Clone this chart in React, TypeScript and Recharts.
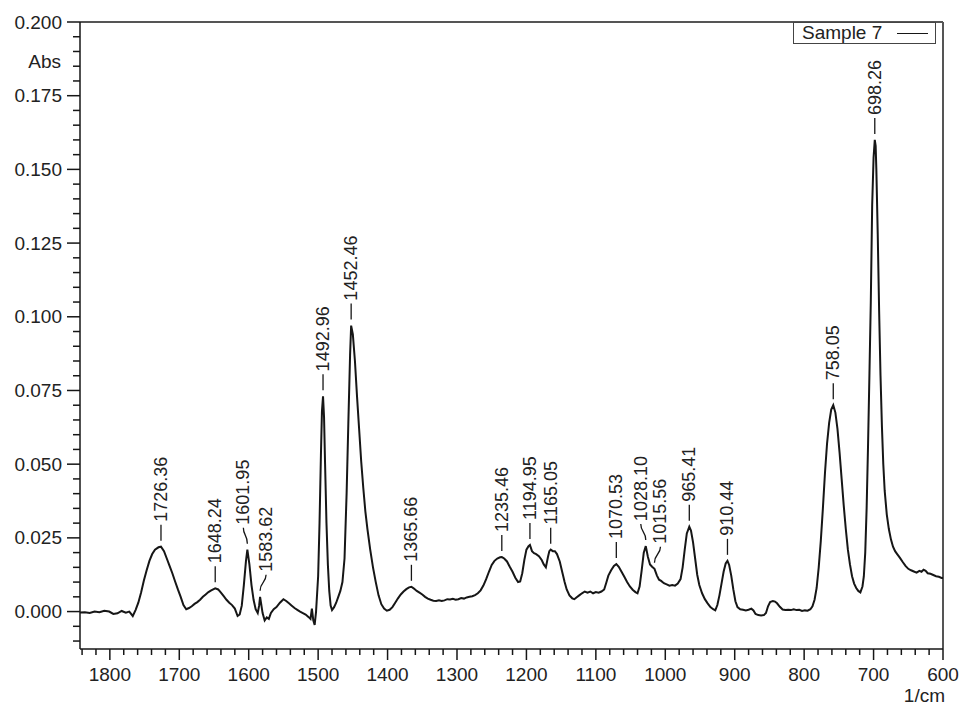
import React from 'react';
import { ComposedChart, Line, Scatter, XAxis, YAxis, ReferenceLine, Label } from 'recharts';

// FTIR absorbance trace of Sample 7, [wavenumber 1/cm, Abs]
const carbonylRegion = [
    [1843, -0.0003], [1836, -0.0002], [1829, -0.0005], [1822, 0.0], [1815, -0.0002], [1808, 0.0003],
    [1801, 0.0], [1795, -0.0008], [1789, -0.0006], [1783, 0.0002], [1777, -0.0004], [1772, 0.0],
    [1767, -0.0015], [1763, 0.0005], [1759, 0.003], [1755, 0.0065], [1751, 0.0105], [1747, 0.014],
    [1743, 0.0172], [1739, 0.0195], [1735, 0.021], [1730, 0.0218], [1726.36, 0.022], [1722, 0.0205],
    [1718, 0.018], [1714, 0.0155], [1710, 0.013], [1706, 0.0102], [1702, 0.0075], [1698, 0.005],
    [1694, 0.0022], [1690, 0.0008], [1686, 0.0012], [1682, 0.0018], [1678, 0.0026], [1674, 0.0032],
    [1670, 0.004], [1666, 0.005], [1662, 0.0058], [1658, 0.0066], [1654, 0.0072], [1648.24, 0.0079],
    [1644, 0.0075], [1640, 0.0064], [1636, 0.0052], [1632, 0.004], [1628, 0.003], [1624, 0.0022],
    [1620, 0.001], [1616, -0.0015],
];

const aromaticRegion = [
    [1613, -0.001], [1610, 0.002], [1607, 0.009], [1604, 0.017], [1601.95, 0.021], [1599, 0.016],
    [1596, 0.009], [1593, 0.004], [1590, 0.0008], [1587, -0.0005], [1585, 0.002], [1583.62, 0.005],
    [1582, 0.0025], [1580, -0.0005], [1577, -0.003], [1574, -0.002], [1571, -0.0025], [1568, -0.0005],
    [1564, 0.0008], [1560, 0.0015], [1555, 0.003], [1550, 0.0042], [1546, 0.0036], [1542, 0.0028],
    [1538, 0.002], [1534, 0.0012], [1530, 0.0006], [1526, 0.0], [1522, -0.0005], [1518, -0.001],
    [1514, -0.0018], [1511, -0.0025], [1509, 0.001], [1507, -0.003], [1505, -0.0045], [1503, 0.0],
    [1500, 0.012], [1498, 0.03], [1496, 0.053], [1494.5, 0.068], [1492.96, 0.073], [1491.5, 0.066],
    [1490, 0.05], [1488, 0.03], [1486, 0.016], [1484, 0.007], [1482, 0.002], [1480, 0.0005],
    [1477, 0.0015], [1474, 0.003], [1471, 0.005], [1468, 0.007], [1465, 0.01], [1462, 0.018],
    [1459, 0.04], [1456.5, 0.064], [1454, 0.087], [1452.46, 0.097], [1450, 0.094], [1447, 0.085],
    [1444, 0.073], [1441, 0.062], [1438, 0.051], [1435, 0.042], [1432, 0.034], [1429, 0.028],
    [1425, 0.021], [1421, 0.015], [1417, 0.01], [1413, 0.0055], [1409, 0.0025], [1405, 0.001],
    [1401, 0.0003],
];

const fingerprintRegion = [
    [1397, 0.0006], [1393, 0.0015], [1389, 0.003], [1385, 0.0045], [1381, 0.0058], [1377, 0.0068],
    [1373, 0.0076], [1369, 0.0082], [1365.66, 0.0084], [1362, 0.0078], [1358, 0.007], [1354, 0.0064],
    [1350, 0.0058], [1346, 0.005], [1342, 0.0044], [1338, 0.004], [1334, 0.0037], [1330, 0.0036],
    [1326, 0.0038], [1322, 0.0036], [1318, 0.0038], [1314, 0.0042], [1310, 0.0041], [1306, 0.0043],
    [1302, 0.004], [1298, 0.0042], [1294, 0.0046], [1290, 0.0044], [1286, 0.0048], [1282, 0.005],
    [1278, 0.0052], [1274, 0.0056], [1270, 0.0062], [1266, 0.0072], [1262, 0.0088], [1258, 0.011],
    [1254, 0.0135], [1250, 0.0158], [1246, 0.0172], [1242, 0.018], [1238, 0.0184], [1235.46, 0.0185],
    [1232, 0.018], [1228, 0.017], [1224, 0.0152], [1220, 0.0135], [1216, 0.0115], [1212, 0.01],
    [1209, 0.0102], [1206, 0.013], [1203, 0.0175], [1200, 0.021], [1197, 0.0222], [1194.95, 0.0226],
    [1192, 0.0205], [1189, 0.0198], [1186, 0.0195], [1182, 0.0188], [1178, 0.0175], [1175, 0.016],
    [1172, 0.015], [1169, 0.0185], [1167, 0.0205], [1165.05, 0.021], [1162, 0.0205], [1159, 0.0205],
    [1156, 0.0195], [1152, 0.017], [1148, 0.013], [1145, 0.01], [1142, 0.0075], [1138, 0.0055],
    [1134, 0.0045], [1131, 0.0042], [1128, 0.0048], [1124, 0.0055], [1120, 0.0062], [1116, 0.0068],
    [1112, 0.0064], [1108, 0.0068], [1104, 0.0062], [1100, 0.0066], [1096, 0.0064], [1092, 0.0068],
    [1088, 0.0075], [1085, 0.0098], [1082, 0.0122], [1078, 0.014], [1074, 0.0155], [1070.53, 0.0161],
    [1067, 0.0152], [1063, 0.0135], [1059, 0.0118], [1055, 0.01], [1051, 0.0085], [1047, 0.0074],
    [1043, 0.0066], [1040, 0.0062], [1037, 0.0085], [1034, 0.014], [1031, 0.02], [1028.1, 0.0222],
    [1025, 0.0185], [1022, 0.016], [1019, 0.0152], [1015.56, 0.0145], [1012, 0.0122], [1009, 0.0108],
    [1006, 0.0104], [1002, 0.0096],
];

const lowRegion = [
    [998, 0.0092], [994, 0.0088], [990, 0.009], [986, 0.0088], [982, 0.0095], [978, 0.011],
    [975, 0.015], [972, 0.021], [969, 0.0265], [965.41, 0.0288], [963, 0.0275], [960, 0.0235],
    [957, 0.018], [954, 0.0125], [951, 0.009], [947, 0.0062], [943, 0.0042], [939, 0.0028],
    [935, 0.0015], [931, 0.0008], [928, 0.0004], [925, 0.0022], [922, 0.0055], [919, 0.0095],
    [916, 0.0135], [913, 0.0163], [910.44, 0.0172], [908, 0.0158], [905, 0.0122], [902, 0.0075],
    [899, 0.0035], [896, 0.0015], [892, 0.0008], [888, 0.0006], [884, 0.0004], [880, 0.0006],
    [876, 0.001], [873, 0.0004], [870, -0.0008], [866, -0.0012], [862, -0.0013], [858, -0.0012],
    [855, -0.0005], [852, 0.0018], [849, 0.0032], [845, 0.0036], [842, 0.0034], [839, 0.0028],
    [835, 0.0016], [831, 0.0007], [827, 0.0005], [823, 0.0006], [819, 0.0005], [815, 0.0008],
    [811, 0.0005], [807, 0.0006], [803, 0.0002], [799, 0.0004], [795, 0.0003], [791, 0.0008],
];

const ringRegion = [
    [788, 0.0018], [785, 0.004], [782, 0.008], [779, 0.015], [776, 0.024], [773, 0.035],
    [770, 0.047], [767, 0.057], [764, 0.064], [761, 0.0685], [758.05, 0.07], [755, 0.0675],
    [752, 0.062], [749, 0.054], [746, 0.045], [743, 0.036], [740, 0.028], [737, 0.021],
    [734, 0.016], [731, 0.012], [728, 0.0095], [725, 0.008], [722, 0.007], [719, 0.0065],
    [716, 0.0085], [714, 0.012], [712, 0.02], [710, 0.035], [708, 0.056], [706, 0.08],
    [704, 0.105], [702, 0.138], [700, 0.154], [698.26, 0.16], [697, 0.158], [696, 0.15],
    [694, 0.128], [692, 0.102], [690, 0.08], [688, 0.063], [686, 0.05], [684, 0.041],
    [681, 0.033], [678, 0.028], [675, 0.0245], [672, 0.022], [669, 0.0205], [666, 0.0195],
    [662, 0.0182], [658, 0.0168], [654, 0.0155], [650, 0.0145], [646, 0.014], [642, 0.0136],
    [638, 0.0132], [634, 0.0138], [631, 0.0135], [628, 0.0142], [625, 0.0138], [622, 0.013],
    [618, 0.0128], [614, 0.0124], [610, 0.012], [606, 0.0118], [602, 0.0114], [600, 0.0114],
];

// picked peaks
const peakPositions = [
    1726.36, 1648.24, 1601.95, 1583.62, 1492.96, 1452.46, 1365.66, 1235.46, 1194.95,
    1165.05, 1070.53, 1028.1, 1015.56, 965.41, 910.44, 758.05, 698.26,
];
const peakHeights = [
    0.022, 0.0079, 0.021, 0.005, 0.073, 0.097, 0.0084, 0.0185, 0.0226,
    0.021, 0.0161, 0.0222, 0.0145, 0.0288, 0.0172, 0.07, 0.16,
];

const xMajorTicks = [1800, 1700, 1600, 1500, 1400, 1300, 1200, 1100, 1000, 900, 800, 700, 600];
const yMajorTicks = [0, 0.025, 0.05, 0.075, 0.1, 0.125, 0.15, 0.175, 0.2];

const spectrum = [...carbonylRegion, ...aromaticRegion, ...fingerprintRegion, ...lowRegion, ...ringRegion]
    .map(([wn, abs]) => ({ wn, abs }));
const peaks = peakPositions.map((wn, i) => ({ wn, abs: peakHeights[i] }));

// minor ticks every 20 1/cm and every 0.005 Abs
const xTicks: number[] = [];
for (let v = 600; v <= 1843; v += 20) xTicks.push(v);
const yTicks: number[] = [];
for (let i = -2; i <= 40; i++) yTicks.push(Math.round(i * 5) / 1000);

const FONT = '"Liberation Sans", Arial, Helvetica, sans-serif';
const INK = '#161616';

// leader lines that bend sideways where labels crowd
const leaderBend: Record<string, number> = { '1601.95': -4, '1583.62': 6, '1028.10': -5, '1015.56': 6 };

const XTick = ({ x, y, payload }: any) => {
    const major = xMajorTicks.includes(payload.value);
    return (
        <g>
            <line x1={x} x2={x} y1={y} y2={y + (major ? 11 : 6)} stroke={INK} strokeWidth={1.5} />
            {major && (
                <text x={x} y={y + 25} textAnchor="middle" dominantBaseline="central"
                    fontFamily={FONT} fontSize={19} fill="#222">
                    {payload.value}
                </text>
            )}
        </g>
    );
};

const YTick = ({ x, y, payload }: any) => {
    const major = yMajorTicks.some((t) => Math.abs(t - payload.value) < 1e-6);
    return (
        <g>
            <line x1={x - (major ? 13 : 7)} x2={x} y1={y} y2={y} stroke={INK} strokeWidth={1.5} />
            {major && (
                <text x={x - 18} y={y} textAnchor="end" dominantBaseline="central"
                    fontFamily={FONT} fontSize={19} fill="#222">
                    {payload.value.toFixed(3)}
                </text>
            )}
        </g>
    );
};

const PeakMark = ({ cx, cy, payload }: any) => {
    const label = payload.wn.toFixed(2);
    const dx = leaderBend[label] ?? 0;
    const y0 = cy - 6;
    const y1 = cy - 22;
    const d = dx
        ? `M${cx},${y0} C${cx},${y0 - 9} ${cx + dx},${y1 + 8} ${cx + dx},${y1}`
        : `M${cx},${y0} L${cx},${y1}`;
    const tx = cx + dx;
    const ty = y1 - 3;
    return (
        <g>
            <path d={d} stroke={INK} strokeWidth={1.3} fill="none" />
            <text x={tx} y={ty} transform={`rotate(-90 ${tx} ${ty})`} textAnchor="start"
                dominantBaseline="central" fontFamily={FONT} fontSize={18} fill="#222">
                {label}
            </text>
        </g>
    );
};

export default function App() {
    return (
        <div style={{ position: 'absolute', left: 0, top: 0, width: 960, height: 705, background: '#fff' }}>
            <ComposedChart width={960} height={705} margin={{ top: 22, right: 17, left: 0, bottom: 0 }}>
                <XAxis
                    dataKey="wn"
                    type="number"
                    domain={[600, 1843]}
                    reversed
                    allowDataOverflow
                    ticks={xTicks}
                    interval={0}
                    tick={<XTick />}
                    tickLine={false}
                    tickSize={0}
                    tickMargin={0}
                    height={56}
                    axisLine={{ stroke: INK, strokeWidth: 1.5 }}
                >
                    <Label
                        content={({ viewBox }: any) => (
                            <text x={viewBox.x + viewBox.width + 2} y={viewBox.y + 46} textAnchor="end"
                                dominantBaseline="central" fontFamily={FONT} fontSize={19} fill="#222">
                                1/cm
                            </text>
                        )}
                    />
                </XAxis>
                <YAxis
                    dataKey="abs"
                    type="number"
                    domain={[-0.0127, 0.2]}
                    allowDataOverflow
                    ticks={yTicks}
                    interval={0}
                    tick={<YTick />}
                    tickLine={false}
                    tickSize={0}
                    tickMargin={0}
                    width={80}
                    axisLine={{ stroke: INK, strokeWidth: 1.5 }}
                >
                    <Label
                        content={({ viewBox }: any) => (
                            <text x={viewBox.x + viewBox.width - 19} y={viewBox.y + 39} textAnchor="end"
                                dominantBaseline="central" fontFamily={FONT} fontSize={19} fill="#222">
                                Abs
                            </text>
                        )}
                    />
                </YAxis>
                <ReferenceLine y={0.2} stroke="#555" strokeWidth={2} />
                <ReferenceLine x={600} stroke="#555" strokeWidth={2} />
                <Line
                    data={spectrum}
                    dataKey="abs"
                    type="linear"
                    stroke={INK}
                    strokeWidth={2}
                    dot={false}
                    isAnimationActive={false}
                />
                <Scatter data={peaks} dataKey="abs" shape={<PeakMark />} isAnimationActive={false} />
            </ComposedChart>
            <div
                style={{
                    position: 'absolute', left: 793, top: 22, width: 143, height: 22, boxSizing: 'border-box',
                    border: '1.5px solid #444', background: '#fff', display: 'flex', alignItems: 'center',
                    fontFamily: FONT, fontSize: 19, color: '#222',
                }}
            >
                <span style={{ marginLeft: 8, lineHeight: '20px' }}>Sample 7</span>
                <span style={{ display: 'inline-block', width: 31, borderTop: `1.5px solid ${INK}`, marginLeft: 15 }} />
            </div>
        </div>
    );
}
